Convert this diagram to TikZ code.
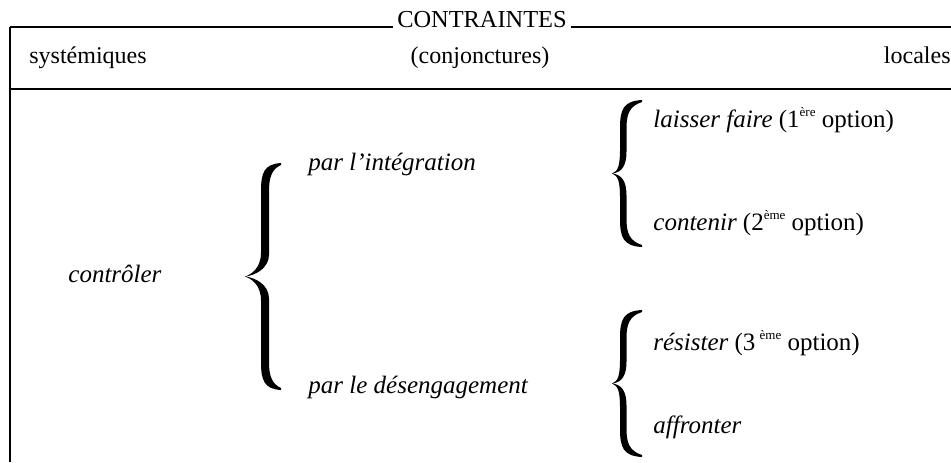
\documentclass[tikz,border=0pt]{standalone}
\usepackage{fontspec}
\setmainfont{Liberation Serif}
\usetikzlibrary{positioning}

% filled curly brace: tip x, body x, end x, top y, bottom y, thickness
\newcommand{\curlybrace}[6]{%
  \pgfmathsetmacro{\bmid}{(#4+#5)/2}%
  \fill ({#3},{#4}) .. controls ({#2+3},{#4+1}) and ({#2},{#4+10}) .. ({#2},{#4+28})
    -- ({#2},{\bmid-24}) .. controls ({#2},{\bmid-8}) and ({#1+6},{\bmid-2}) .. ({#1},{\bmid})
    .. controls ({#1+6},{\bmid+2}) and ({#2},{\bmid+8}) .. ({#2},{\bmid+24})
    -- ({#2},{#5-28}) .. controls ({#2},{#5-10}) and ({#2+3},{#5-1}) .. ({#3},{#5})
    -- ({#3},{#5-2}) .. controls ({#2+#6+3},{#5-6}) and ({#2+#6},{#5-14}) .. ({#2+#6},{#5-28})
    -- ({#2+#6},{\bmid+22}) .. controls ({#2+#6},{\bmid+8}) and ({#1+10},{\bmid+1}) .. ({#1},{\bmid})
    .. controls ({#1+10},{\bmid-1}) and ({#2+#6},{\bmid-8}) .. ({#2+#6},{\bmid-22})
    -- ({#2+#6},{#4+28}) .. controls ({#2+#6},{#4+14}) and ({#2+#6+3},{#4+6}) .. ({#3},{#4+2}) -- cycle;}
\newcommand{\sups}[1]{\raisebox{0.9ex}{\fontsize{6.5}{7}\selectfont #1}}

\begin{document}
\begin{tikzpicture}[
    x=0.5pt, y=-0.5pt,
    lbl/.style={inner sep=0pt, font=\fontsize{12}{14}\selectfont},
    opt/.style={lbl, anchor=base west, font=\fontsize{12.5}{15}\selectfont\itshape},
    rule/.style={line width=0.8pt}
]
    \useasboundingbox (0,0) rectangle (951,462);

    % header
    \node[lbl, anchor=base, inner sep=2pt, font=\fontsize{12.2}{14}\selectfont] (title) at (482,27) {CONTRAINTES};
    \coordinate (tl) at (10,27);
    \coordinate (tr) at (951,27);
    \coordinate (ml) at (10,89);
    \coordinate (mr) at (951,89);
    \coordinate (bl) at (10,462);
    \draw[rule] (tl) -- (title.base west);
    \draw[rule] (title.base east) -- (tr);
    \draw[rule] (ml) -- (mr);
    \draw[rule] (tl) -- (bl);

    \node[lbl, anchor=base west] (sys) at (29,63) {systémiques};
    \node[lbl, anchor=base] (conj) at (480,63) {(conjonctures)};
    \node[lbl, anchor=base east] (loc) at (951,63) {locales};

    % body
    \node[opt] (contr) at (68,282) {contrôler};
    \node[opt] (integ) at (308,170) {par  l'intégration};
    \node[opt] (deseng) at (308,393) {par  le  désengagement};

    \node[opt] (laisser) at (653,127) {laisser  faire \upshape(1\sups{ère}  option)};
    \node[opt] (contenir) at (653,230) {contenir \upshape(2\sups{ème}  option)};
    \node[opt] (resister) at (653,350) {résister \upshape(3\,\sups{ème}  option)};
    \node[opt] (affronter) at (653,433) {affronter};

    % braces
    \curlybrace{245}{261}{281}{163}{390}{8}
    \curlybrace{612}{620}{642}{100}{247}{6.5}
    \curlybrace{612}{620}{642}{310}{457}{6.5}
\end{tikzpicture}
\end{document}
